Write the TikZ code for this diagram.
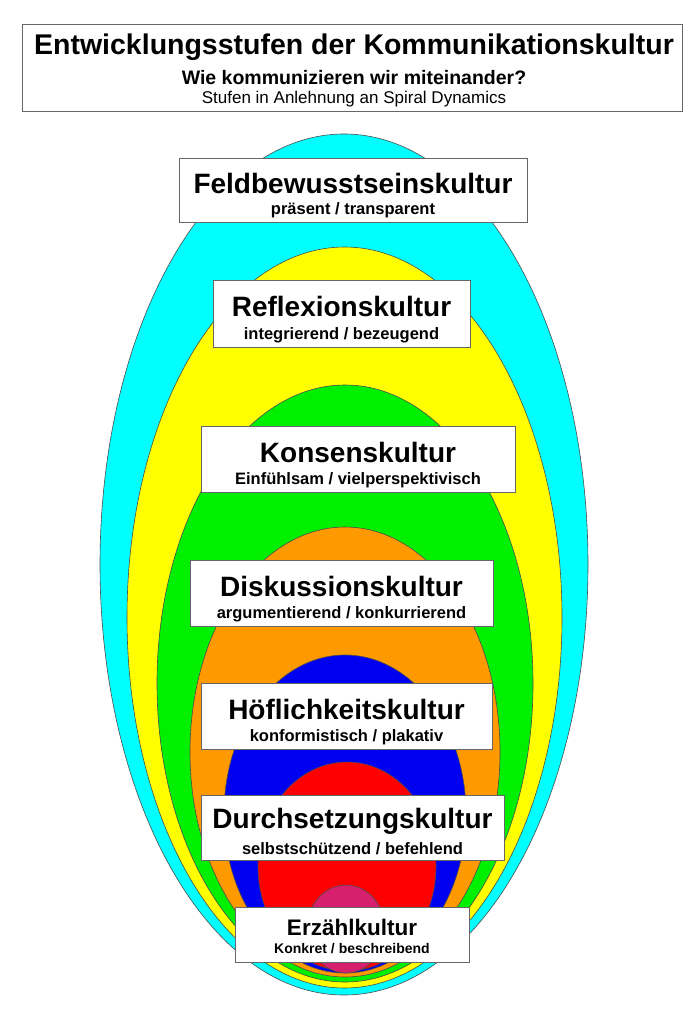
\documentclass[tikz,border=0pt]{standalone}
\usepackage{fontspec}
\setmainfont{Liberation Sans}
\definecolor{cy}{RGB}{0,255,255}
\definecolor{ye}{RGB}{255,255,0}
\definecolor{gr}{RGB}{0,240,0}
\definecolor{or}{RGB}{255,153,0}
\definecolor{bl}{RGB}{0,0,240}
\definecolor{re}{RGB}{255,0,0}
\definecolor{ma}{RGB}{214,32,110}
\begin{document}
\begin{tikzpicture}[x=1pt,y=-1pt,
 ell/.style={draw=black!70,line width=0.6pt},
 box/.style={draw=black!60,fill=white,line width=0.8pt}]
\useasboundingbox (0,0) rectangle (700,1024);
\fill[white] (0,0) rectangle (700,1024);
\draw[ell,fill=cy] (344,564.5) ellipse [x radius=244,y radius=430.5];
\draw[ell,fill=ye] (344.5,617.5) ellipse [x radius=217.5,y radius=370.5];
\draw[ell,fill=gr] (345,683.5) ellipse [x radius=188,y radius=298.5];
\draw[ell,fill=or] (345,752) ellipse [x radius=155,y radius=225];
\draw[ell,fill=bl] (345,814) ellipse [x radius=121,y radius=159];
\draw[ell,fill=re] (347,866.5) ellipse [x radius=89,y radius=104.5];
\draw[ell,fill=ma] (346,929) ellipse [x radius=39,y radius=44];
\draw[box] (22,24) rectangle (682,111);
\node (t1) at (354,47) {\fontsize{28.5}{30}\selectfont\bfseries Entwicklungsstufen der Kommunikationskultur};
\node (t2) at (354,78) {\fontsize{19.5}{21}\selectfont\bfseries Wie kommunizieren wir miteinander?};
\node (t3) at (354,99) {\fontsize{17}{19}\selectfont Stufen in Anlehnung an Spiral Dynamics};
\newcommand{\lvl}[7]{%
 \draw[box] (#1,#2) rectangle (#3,#4);
 \node (#7a) at ({(#1+#3)/2},{#2+0.4*(#4-#2)}) {\fontsize{28}{30}\selectfont\bfseries #5};
 \node (#7b) at ({(#1+#3)/2},{#2+0.82*(#4-#2)}) {\fontsize{16.5}{18}\selectfont\bfseries #6};}
\lvl{179}{158}{527}{222}{Feldbewusstseinskultur}{präsent / transparent}{f}
\lvl{213}{280}{470}{347}{Reflexionskultur}{integrierend / bezeugend}{r}
\lvl{201}{426}{515}{492}{Konsenskultur}{Einfühlsam / vielperspektivisch}{k}
\lvl{190}{560}{493}{626}{Diskussionskultur}{argumentierend / konkurrierend}{d}
\lvl{201}{683}{492}{749}{Höflichkeitskultur}{konformistisch / plakativ}{h}
\lvl{201}{795}{504}{860}{Durchsetzungskultur}{selbstschützend / befehlend}{s}
\draw[box] (235,907) rectangle (469,962);
\node (ea) at (352,927) {\fontsize{22.5}{24}\selectfont\bfseries Erzählkultur};
\node (eb) at (352,949) {\fontsize{14}{16}\selectfont\bfseries Konkret / beschreibend};
\end{tikzpicture}
\end{document}
